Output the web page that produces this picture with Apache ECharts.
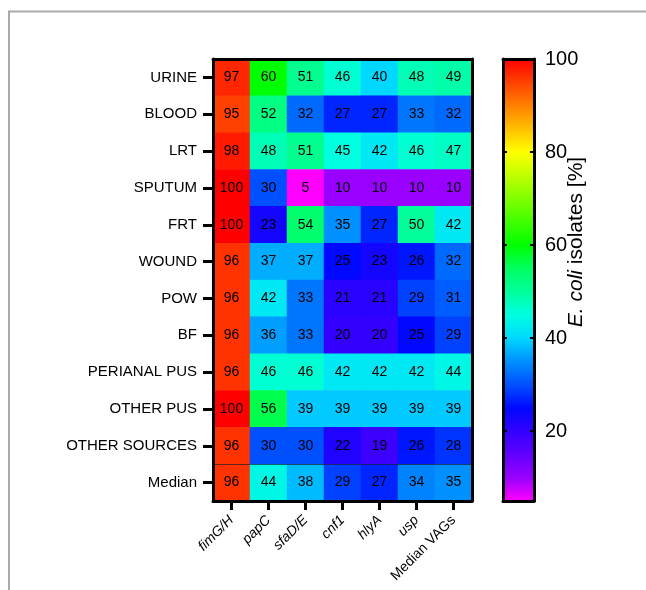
<!DOCTYPE html>
<html>
<head>
<meta charset="utf-8">
<script src="https://cdn.jsdelivr.net/npm/echarts/dist/echarts.min.js"></script>
<style>
html,body{margin:0;padding:0;background:#fff;}
#c{width:646px;height:590px;}
</style>
</head>
<body>
<div id="c"></div>
<script>
// ---- data ----
var sources = ['URINE','BLOOD','LRT','SPUTUM','FRT','WOUND','POW','BF','PERIANAL PUS','OTHER PUS','OTHER SOURCES','Median'];
var genes = ['fimG/H','papC','sfaD/E','cnf1','hlyA','usp','Median VAGs'];
var urine        = [97, 60, 51, 46, 40, 48, 49];
var blood        = [95, 52, 32, 27, 27, 33, 32];
var lrt          = [98, 48, 51, 45, 42, 46, 47];
var sputum       = [100, 30, 5, 10, 10, 10, 10];
var frt          = [100, 23, 54, 35, 27, 50, 42];
var wound        = [96, 37, 37, 25, 23, 26, 32];
var pow          = [96, 42, 33, 21, 21, 29, 31];
var bf           = [96, 36, 33, 20, 20, 25, 29];
var perianalPus  = [96, 46, 46, 42, 42, 42, 44];
var otherPus     = [100, 56, 39, 39, 39, 39, 39];
var otherSources = [96, 30, 30, 22, 19, 26, 28];
var median       = [96, 44, 38, 29, 27, 34, 35];
var colorbarTicks = [20, 40, 60, 80, 100];
var colorMin = 5, colorMax = 100;

var rows = [urine, blood, lrt, sputum, frt, wound, pow, bf, perianalPus, otherPus, otherSources, median];
var heatData = [];
rows.forEach(function (row, r) {
  row.forEach(function (v, c) { heatData.push([c, r, v]); });
});
var medianRowIndex = sources.indexOf('Median');

var FONT = '"Liberation Sans", Arial, sans-serif';
var rainbow = ['#ff00ff','#9900ff','#6000ff','#3300ff','#0008ff','#0050ff','#0090ff','#00d8ff','#00ffe0','#00ff9a','#00ff60','#00ff00','#40ff00','#80ff00','#c0ff00','#ffff00','#ffbf00','#ff8000','#ff4000','#ff0000'];

var chart = echarts.init(document.getElementById('c'), null, {renderer: 'canvas'});
var blackLine = {show: true, lineStyle: {color: '#000', width: 3}};
chart.setOption({
  backgroundColor: '#fff',
  animation: false,
  textStyle: {fontFamily: FONT},
  grid: [
    {left: 213, top: 59, width: 259, height: 442},
    {left: 503, top: 59, width: 31, height: 442}
  ],
  xAxis: [
    {type: 'category', gridIndex: 0, data: genes, position: 'bottom', z: 10,
     axisLine: blackLine,
     axisTick: {show: true, alignWithLabel: true, length: 9, lineStyle: {color: '#000', width: 3}},
     axisLabel: {rotate: 45, margin: 17, fontSize: 14, color: '#000', fontFamily: FONT, interval: 0,
       formatter: function (v) { return v === 'Median VAGs' ? v : '{i|' + v + '}'; },
       rich: {i: {fontStyle: 'italic', fontSize: 14, color: '#000', fontFamily: FONT}}},
     splitLine: {show: false}},
    {type: 'category', gridIndex: 0, data: genes, position: 'top', z: 10,
     axisLine: blackLine, axisTick: {show: false}, axisLabel: {show: false}, splitLine: {show: false}},
    {type: 'value', gridIndex: 1, min: 0, max: 1, position: 'bottom', z: 10,
     axisLine: {show: true, onZero: false, lineStyle: {color: '#000', width: 3}},
     axisTick: {show: false}, axisLabel: {show: false}, splitLine: {show: false}},
    {type: 'value', gridIndex: 1, min: 0, max: 1, position: 'top', z: 10,
     axisLine: {show: true, onZero: false, lineStyle: {color: '#000', width: 3}},
     axisTick: {show: false}, axisLabel: {show: false}, splitLine: {show: false}}
  ],
  yAxis: [
    {type: 'category', gridIndex: 0, data: sources, inverse: true, position: 'left', z: 10,
     axisLine: blackLine,
     axisTick: {show: true, alignWithLabel: true, length: 10, lineStyle: {color: '#000', width: 3}},
     axisLabel: {margin: 16, fontSize: 15, color: '#000', fontFamily: FONT, interval: 0},
     splitLine: {show: false}},
    {type: 'category', gridIndex: 0, data: sources, inverse: true, position: 'right', z: 10,
     axisLine: blackLine, axisTick: {show: false}, axisLabel: {show: false}, splitLine: {show: false}},
    {type: 'value', gridIndex: 1, min: colorMin, max: colorMax, position: 'right', z: 10,
     axisLine: {show: true, onZero: false, lineStyle: {color: '#000', width: 3}},
     axisTick: {show: true, inside: true, length: 4, customValues: colorbarTicks.slice(0, 4), lineStyle: {color: '#000', width: 2}},
     axisLabel: {show: true, margin: 11, fontSize: 20, color: '#000', fontFamily: FONT, customValues: colorbarTicks},
     splitLine: {show: false}},
    {type: 'value', gridIndex: 1, min: colorMin, max: colorMax, position: 'left', z: 10,
     axisLine: {show: true, onZero: false, lineStyle: {color: '#000', width: 3}},
     axisTick: {show: true, inside: true, length: 4, customValues: colorbarTicks.slice(0, 4), lineStyle: {color: '#000', width: 2}},
     axisLabel: {show: false}, splitLine: {show: false}}
  ],
  visualMap: {
    type: 'continuous', min: colorMin, max: colorMax, seriesIndex: 0,
    left: 503, top: 59, itemWidth: 31, itemHeight: 442, padding: 0,
    text: null, showLabel: false, calculable: false, hoverLink: false, z: 1,
    inRange: {color: rainbow}
  },
  graphic: [
    {type: 'polyline', z: 0, shape: {points: [[9, 590], [9, 11.5], [646, 11.5]]},
     style: {stroke: '#aaaaaa', lineWidth: 2, fill: null}},
    {type: 'text', x: 576, y: 242, rotation: Math.PI / 2, z: 20,
     style: {text: '{i|E. coli} isolates [%]', fontSize: 21, fill: '#000', fontFamily: FONT,
       align: 'center', verticalAlign: 'middle',
       rich: {i: {fontStyle: 'italic', fontSize: 21, fill: '#000', fontFamily: FONT}}}}
  ],
  series: [{
    type: 'heatmap', xAxisIndex: 0, yAxisIndex: 0, data: heatData,
    label: {show: true, color: '#000', fontSize: 14, fontFamily: FONT},
    itemStyle: {borderWidth: 0},
    emphasis: {disabled: true}
  }]
});

// thin separator above the Median row, placed via the chart's own scale
function drawSeparator() {
  var yTop = chart.convertToPixel({yAxisIndex: 0}, medianRowIndex);
  var h = chart.convertToPixel({yAxisIndex: 0}, medianRowIndex) - chart.convertToPixel({yAxisIndex: 0}, medianRowIndex - 1);
  var yb = Math.round(yTop - h / 2) + 0.5;
  var x0 = chart.convertToPixel({xAxisIndex: 0}, 0) - 18;
  var x1 = chart.convertToPixel({xAxisIndex: 0}, genes.length - 1) + 18;
  chart.setOption({graphic: [
    {type: 'polyline', z: 0, shape: {points: [[9, 590], [9, 11.5], [646, 11.5]]},
     style: {stroke: '#aaaaaa', lineWidth: 2, fill: null}},
    {type: 'text', x: 576, y: 242, rotation: Math.PI / 2, z: 20,
     style: {text: '{i|E. coli} isolates [%]', fontSize: 21, fill: '#000', fontFamily: FONT,
       align: 'center', verticalAlign: 'middle',
       rich: {i: {fontStyle: 'italic', fontSize: 21, fill: '#000', fontFamily: FONT}}}},
    {type: 'line', z: 5, shape: {x1: x0, y1: yb, x2: x1, y2: yb},
     style: {stroke: 'rgba(30,30,50,0.7)', lineWidth: 1}}
  ]});
}
drawSeparator();
</script>
</body>
</html>
